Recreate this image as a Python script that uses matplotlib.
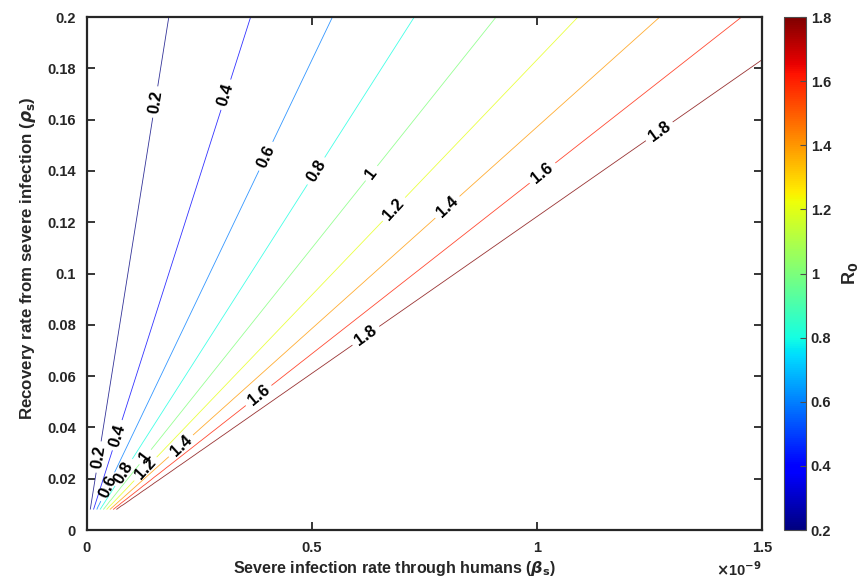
import numpy as np
import matplotlib.pyplot as plt
from matplotlib import colors, cm, ticker

plt.rcParams['font.family'] = ['Liberation Sans', 'DejaVu Sans']
plt.rcParams['font.weight'] = 'bold'
plt.rcParams['axes.labelweight'] = 'bold'
plt.rcParams['mathtext.fontset'] = 'dejavusans'

# R0 = K * beta_s / rho_s over the parameter plane
K = 2.2e8
beta_s = np.linspace(0, 1.5e-9, 61)
rho_s = np.linspace(0.008, 0.2, 100)
levels = [0.2, 0.4, 0.6, 0.8, 1.0, 1.2, 1.4, 1.6, 1.8]

# where the inline labels sit (beta_s, rho_s)
label_pos = [
    (0.151e-9, 0.1669), (0.311e-9, 0.1696), (0.402e-9, 0.1454),
    (0.513e-9, 0.1396), (0.633e-9, 0.139), (0.689e-9, 0.124),
    (0.809e-9, 0.1244), (1.013e-9, 0.139), (1.278e-9, 0.154),
    (0.0244e-9, 0.0285), (0.0667e-9, 0.037), (0.047e-9, 0.0168),
    (0.08e-9, 0.0226), (0.133e-9, 0.028), (0.129e-9, 0.024),
    (0.211e-9, 0.0324), (0.384e-9, 0.0519), (0.622e-9, 0.0752),
]

B, P = np.meshgrid(beta_s, rho_s)
R0 = K * B / P

fig = plt.figure(figsize=(8.62, 5.82), dpi=100)
ax = fig.add_axes([0.1009, 0.0893, 0.7831, 0.8814])
cax = fig.add_axes([0.9095, 0.0893, 0.0255, 0.8814])

norm = colors.Normalize(vmin=0.2, vmax=1.8)
jet = plt.get_cmap('jet')
# thin lines come out a little washed, so mix the jet colours with white
line_colors = [0.8 * np.array(jet(norm(v))[:3]) + 0.2 for v in levels]
cs = ax.contour(B, P, R0, levels=levels, colors=line_colors, linewidths=0.6)
ax.clabel(cs, fmt='%g', fontsize=12, colors='k', inline=True,
          inline_spacing=5, manual=label_pos)

ax.set_xlim(0, 1.5e-9)
ax.set_ylim(0, 0.2)
ax.set_xticks([0, 0.5e-9, 1e-9, 1.5e-9])
ax.xaxis.set_major_formatter(ticker.FuncFormatter(lambda v, p: '%g' % (v / 1e-9)))
ax.set_yticks(np.arange(0, 0.201, 0.02))
ax.yaxis.set_major_formatter(ticker.FuncFormatter(lambda v, p: '%g' % round(v, 2)))
ax.tick_params(direction='in', top=True, right=True, length=6, width=1.3,
               color='0.15', labelsize=10.5, labelcolor='0.15', pad=8)
for s in ax.spines.values():
    s.set_linewidth(1.6)
    s.set_color('0.15')

ax.set_xlabel(r'Severe infection rate through humans ($\beta_{\mathbf{s}}$)',
              fontsize=11.5, color='0.15')
ax.set_ylabel(r'Recovery rate from severe infection ($\rho_{\mathbf{s}}$)',
              fontsize=12.2, color='0.15')
ax.xaxis.set_label_coords(0.456, -0.056)
ax.yaxis.set_label_coords(-0.073, 0.53)
ax.text(1.0, -0.078, r'$\times$10$^{\mathbf{-9}}$', transform=ax.transAxes,
        ha='right', va='center', fontsize=10.5, color='0.15')

sm = cm.ScalarMappable(norm=norm, cmap='jet')
cb = fig.colorbar(sm, cax=cax)
cb.set_ticks(levels)
cb.ax.yaxis.set_major_formatter(ticker.FuncFormatter(lambda v, p: '%g' % round(v, 1)))
cb.ax.tick_params(direction='in', length=4, width=0.8, color='0.3',
                  labelsize=10.5, labelcolor='0.15')
cb.outline.set_linewidth(0.8)
cb.outline.set_edgecolor('0.3')
cb.set_label(r'R$_\mathbf{0}$', fontsize=13, fontweight='bold', color='0.15',
             labelpad=6)

fig.savefig('out.png', dpi=100)
